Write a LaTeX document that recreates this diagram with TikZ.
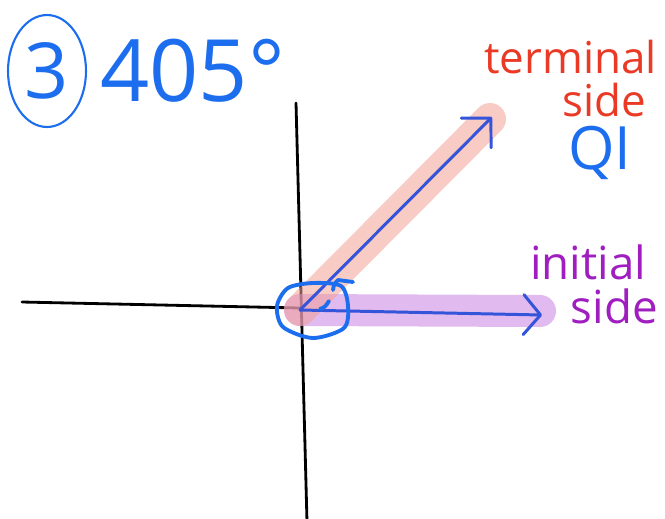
\documentclass[tikz,border=0pt]{standalone}
\usepackage{fontspec}
\setmainfont{Open Sans}
\usetikzlibrary{positioning,shapes.geometric,arrows.meta}
\usepackage{xcolor}
\definecolor{numblue}{RGB}{28,110,238}
\definecolor{rayblue}{RGB}{52,84,218}
\definecolor{termred}{RGB}{234,58,38}
\definecolor{initpurple}{RGB}{160,30,192}
\definecolor{pinkhl}{RGB}{243,160,150}
\definecolor{purplehl}{RGB}{200,130,225}

\begin{document}
\begin{tikzpicture}[
    x=0.02cm, y=-0.02cm,
    axis/.style={draw=black, line width=1.6pt, line cap=round},
    highlight/.style={draw=#1, line width=0.64cm, line cap=round, opacity=0.55},
    ray/.style={draw=rayblue, line width=1.7pt, line cap=round, line join=round},
    termtip/.style={-{Straight Barb[length=0.42cm, width=0.84cm, round]}},
    inittip/.style={-{Straight Barb[length=0.34cm, width=0.8cm, round]}},
    loopline/.style={draw=numblue, line width=2.2pt, line cap=round, line join=round},
    bigtext/.style={text=numblue, inner sep=0pt, font=\fontsize{49}{53}\selectfont},
    sidelabel/.style={text=#1, inner sep=0pt, font=\fontsize{26}{30}\selectfont}
]
\useasboundingbox (0,0) rectangle (665,518);

% axes
\coordinate (O) at (300,310);
\coordinate (xL) at (22,302);
\coordinate (xO) at (300,308);
\coordinate (yT) at (296,103);
\coordinate (yB) at (307,522);
\draw[axis] (xL) -- (xO);
\draw[axis] (yT) -- (yB);

% highlighted sides
\coordinate (pinkEnd) at (490,119);
\coordinate (purpleEnd) at (540,311);
\draw[highlight=purplehl] (O) -- (purpleEnd);
\draw[highlight=pinkhl] (O) -- (pinkEnd);

% the two rays
\coordinate (tEnd) at (492,117);
\coordinate (iEnd) at (542,315);
\draw[ray, termtip] (O) -- (tEnd);
\draw[ray, inittip] (O) -- (iEnd);

% rotation loop round the origin
\draw[loopline] plot[smooth cycle] coordinates {(313,283) (341,286) (348,306) (344,328)
    (313,338) (283,327) (277,306) (288,288)};
\draw[loopline] (320,309) .. controls (325,307) .. (329,301);
\draw[loopline] (333,290) .. controls (334,284) .. (338,280) -- (353,282);

% title
\node[ellipse, draw=numblue, line width=1.2pt, minimum width=1.56cm, minimum height=2.24cm,
      text=numblue, inner sep=0pt, font=\fontsize{44}{48}\selectfont] (num) at (47,71) {3};
\node[bigtext, right=0.26cm of num] (angle) {405°};

% labels
\node[sidelabel=termred, anchor=base west, font=\fontsize{25}{29}\selectfont] (term) at (484,73) {terminal};
\node[sidelabel=termred, below=0.18cm of term, xshift=0.68cm,
      font=\fontsize{25}{29}\selectfont] (tside) {side};
\node[sidelabel=numblue, below=0.18cm of tside, xshift=-0.1cm,
      font=\fontsize{34}{38}\selectfont] (quad) {QI};

\node[sidelabel=initpurple, anchor=base west] (init) at (530,279) {initial};
\node[sidelabel=initpurple, below=0.18cm of init, xshift=0.52cm] (iside) {side};

\end{tikzpicture}
\end{document}
